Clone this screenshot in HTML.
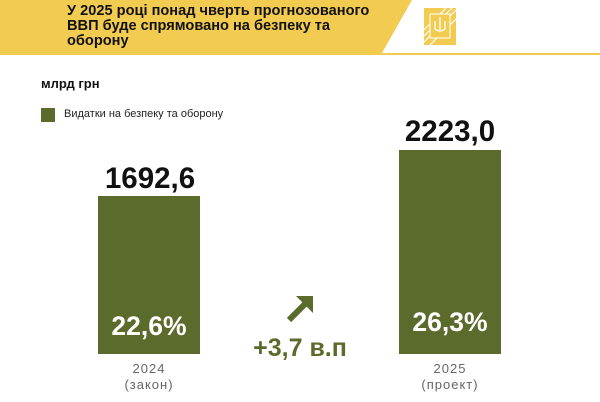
<!DOCTYPE html>
<html><head><meta charset="utf-8"><style>
body{margin:0;width:600px;height:402px;background:#fff;position:relative;overflow:hidden;font-family:"Liberation Sans","DejaVu Sans",sans-serif}
.a{position:absolute}
</style></head><body>
<div class="a" style="left:0;top:0;width:600px;height:53px;background:#f2cb51"></div>
<div class="a" style="left:0;top:53px;width:600px;height:2px;background:#f2cb51"></div>
<svg class="a" style="left:0;top:0" width="600" height="55"><polygon points="412,0 600,0 600,53 382,53" fill="#fff"/>
<rect x="424" y="8" width="32" height="37" fill="#f2cb51"/>
<g stroke="#fff" stroke-width="1.2"><line x1="424" y1="30" x2="446" y2="8"/><line x1="424" y1="36" x2="452" y2="8"/><line x1="424" y1="42" x2="456" y2="10"/><line x1="430" y1="45" x2="456" y2="19"/></g>
<rect x="430" y="14" width="20" height="24" fill="#f2cb51" stroke="#fff" stroke-width="1"/>
<path d="M440 17 v14 M435 21 v8 q5 4 10 0 v-8" stroke="#fff" fill="none" stroke-width="1.3"/></svg>
<div class="a" style="left:67px;top:4px;font-size:14.6px;font-weight:bold;line-height:15px;color:#111">У 2025 році понад чверть прогнозованого<br>ВВП буде спрямовано на безпеку та<br>оборону</div>
<div class="a" style="left:41px;top:76px;font-size:13px;font-weight:bold;color:#111">млрд грн</div>
<div class="a" style="left:41px;top:108px;width:14px;height:14px;background:#5a6b2c"></div>
<div class="a" style="left:64px;top:108px;font-size:11px;color:#222">Видатки на безпеку та оборону</div>
<div class="a" style="left:98px;top:196px;width:102px;height:158px;background:#5a6b2c"></div>
<div class="a" style="left:399px;top:150px;width:102px;height:204px;background:#5a6b2c"></div>
<div class="a" style="left:80px;top:162px;width:140px;text-align:center;font-size:29.5px;font-weight:bold;color:#111">1692,6</div>
<div class="a" style="left:380px;top:115px;width:140px;text-align:center;font-size:29.5px;font-weight:bold;color:#111">2223,0</div>
<div class="a" style="left:98px;top:311px;width:102px;text-align:center;font-size:26.5px;font-weight:bold;color:#fff">22,6%</div>
<div class="a" style="left:399px;top:307px;width:102px;text-align:center;font-size:26.5px;font-weight:bold;color:#fff">26,3%</div>
<div class="a" style="left:98px;top:361px;width:102px;text-align:center;font-size:13px;line-height:16px;color:#666;letter-spacing:1px">2024<br>(закон)</div>
<div class="a" style="left:399px;top:361px;width:102px;text-align:center;font-size:13px;line-height:16px;color:#666;letter-spacing:1px">2025<br>(проект)</div>
<svg class="a" style="left:284px;top:293px" width="32" height="32"><line x1="5" y1="27" x2="22" y2="10" stroke="#5a6b2c" stroke-width="6"/><polygon points="12,3 29,3 29,20" fill="#5a6b2c"/></svg>
<div class="a" style="left:230px;top:334px;width:140px;text-align:center;font-size:25px;font-weight:bold;color:#5a6b2c">+3,7 в.п</div>
</body></html>
